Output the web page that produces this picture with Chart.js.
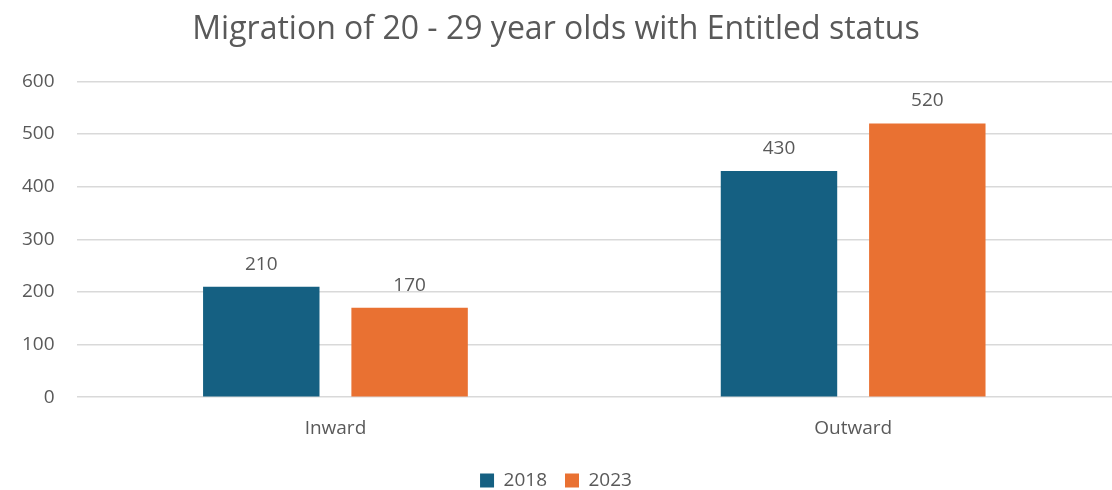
<!DOCTYPE html>
<html>
<head>
<meta charset="utf-8">
<script src="https://cdn.jsdelivr.net/npm/chart.js@4"></script>
<style>
  html, body { margin: 0; padding: 0; background: #fff; }
  #wrap { width: 1112px; height: 490px; }
</style>
</head>
<body>
<div id="wrap"><canvas id="chart"></canvas></div>
<script>
const categories = ['Inward', 'Outward'];
const seriesNames = ['2018', '2023'];
const values2018 = [210, 430];
const values2023 = [170, 520];
const yTicks = [0, 100, 200, 300, 400, 500, 600];

const textColor = '#595959';
const fontFamily = '"Open Sans", sans-serif';

// prints each bar's value just above it
const valueLabels = {
  id: 'valueLabels',
  afterDatasetsDraw(chart) {
    const { ctx } = chart;
    ctx.save();
    ctx.fillStyle = textColor;
    ctx.font = '19px ' + fontFamily;
    ctx.textAlign = 'center';
    ctx.textBaseline = 'bottom';
    chart.data.datasets.forEach((ds, i) => {
      chart.getDatasetMeta(i).data.forEach((bar, j) => {
        ctx.fillText(String(ds.data[j]), bar.x, bar.y - 13);
      });
    });
    ctx.restore();
  }
};

new Chart(document.getElementById('chart'), {
  type: 'bar',
  data: {
    labels: categories,
    datasets: [
      { label: seriesNames[0], data: values2018, backgroundColor: '#156082' },
      { label: seriesNames[1], data: values2023, backgroundColor: '#E97132' },
    ]
  },
  options: {
    responsive: true,
    maintainAspectRatio: false,
    animation: false,
    categoryPercentage: 0.573,
    barPercentage: 0.785,
    layout: { padding: { top: 11, left: 0, right: 0, bottom: -10 } },
    scales: {
      x: {
        grid: { display: false },
        border: { display: false },
        ticks: { color: textColor, font: { family: fontFamily, size: 19 }, padding: 12 },
        afterFit(axis) { axis.height += 1; }
      },
      y: {
        min: 0,
        max: 600,
        afterBuildTicks(axis) { axis.ticks = yTicks.map(v => ({ value: v })); },
        grid: { color: '#d9d9d9', lineWidth: 1.5, drawTicks: false },
        border: { display: false },
        ticks: { color: textColor, font: { family: fontFamily, size: 19 }, padding: 22 }
      }
    },
    plugins: {
      title: {
        display: true,
        text: 'Migration of 20 - 29 year olds with Entitled status',
        color: textColor,
        font: { family: fontFamily, size: 32, weight: 'normal' },
        padding: { top: 0, bottom: 32 }
      },
      legend: {
        position: 'bottom',
        labels: {
          color: textColor,
          font: { family: fontFamily, size: 19 },
          boxWidth: 14,
          boxHeight: 14,
          padding: 18
        }
      },
      tooltip: { enabled: false }
    }
  },
  plugins: [valueLabels]
});
</script>
</body>
</html>
